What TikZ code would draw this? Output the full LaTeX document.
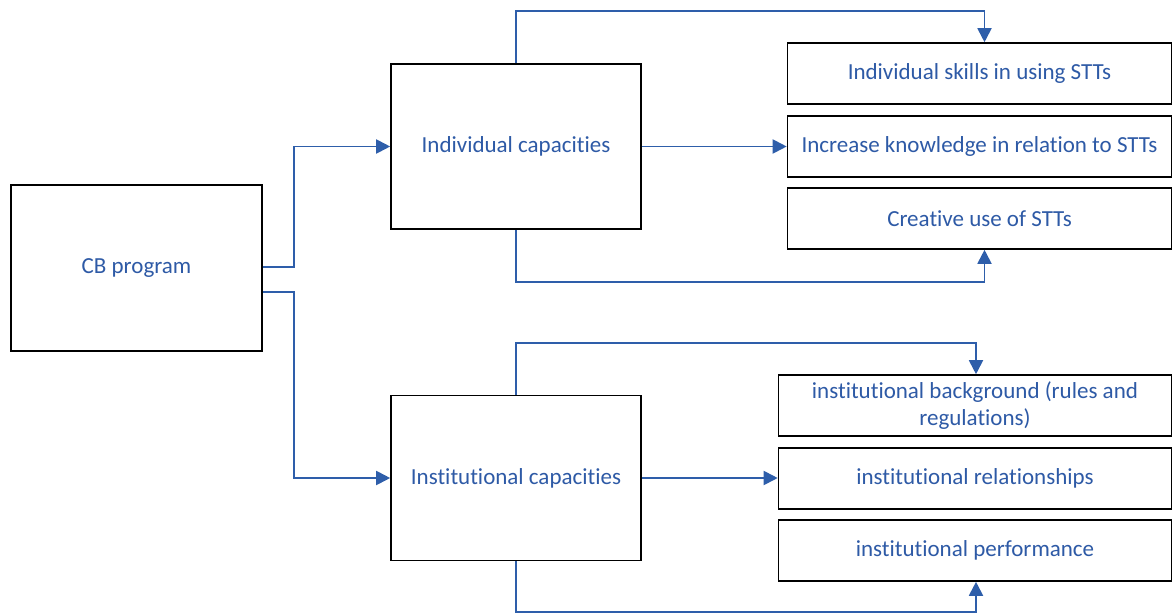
\documentclass[tikz,border=0pt]{standalone}
\usepackage{fontspec}
\setmainfont{Carlito}[Ligatures=NoCommon]
\usetikzlibrary{arrows.meta,calc}
\definecolor{lineblue}{RGB}{46,94,170}
\definecolor{textblue}{RGB}{46,90,166}
\begin{document}
\begin{tikzpicture}[x=1pt,y=-1pt,
  box/.style={draw=black,line width=1.6pt,fill=white,text=textblue,align=center,
    inner sep=0pt,font=\fontsize{23}{27.5}\selectfont},
  bigbox/.style={box,minimum width=250pt,minimum height=165pt},
  smallbox/.style={box,minimum width=384pt,minimum height=61pt},
  smallbox2/.style={box,minimum width=393pt,minimum height=61pt},
  conn/.style={draw=lineblue,line width=1.9pt,-{Triangle[length=14pt,width=14pt]}}]
\useasboundingbox (0,0) rectangle (1173,613);
\node[bigbox,minimum width=251pt,minimum height=166pt] (cb) at (136.5,268) {CB program};
\node[bigbox] (ind) at (516,146.5) {Individual capacities};
\node[bigbox] (inst) at (516,478) {Institutional capacities};
\node[smallbox] (r1) at (979.5,73.5) {Individual skills in using STTs};
\node[smallbox] (r2) at (979.5,146.5) {Increase knowledge in relation to STTs};
\node[smallbox] (r3) at (979.5,218.5) {Creative use of STTs};
\node[smallbox2] (s1) at (975,405.5) {institutional background (rules and\\regulations)};
\node[smallbox2] (s2) at (975,478.5) {institutional relationships};
\node[smallbox2] (s3) at (975,550.5) {institutional performance};
% CB program to capacities
\draw[conn] ([yshift=1pt]cb.east) -- ++(31,0) |- (ind.west);
\draw[conn] ([yshift=-24pt]cb.east) -- ++(31,0) |- (inst.west);
% Individual capacities
\draw[conn] (ind.north) -- ++(0,-52) -| ([xshift=5pt]r1.north);
\draw[conn] (ind.east) -- (ind.east -| r2.west);
\draw[conn] (ind.south) -- ++(0,52) -| ([xshift=5pt]r3.south);
% Institutional capacities
\draw[conn] (inst.north) -- ++(0,-52) -| ([xshift=1pt]s1.north);
\draw[conn] (inst.east) -- (inst.east -| s2.west);
\draw[conn] (inst.south) -- ++(0,51) -| ([xshift=1pt]s3.south);
\end{tikzpicture}
\end{document}
